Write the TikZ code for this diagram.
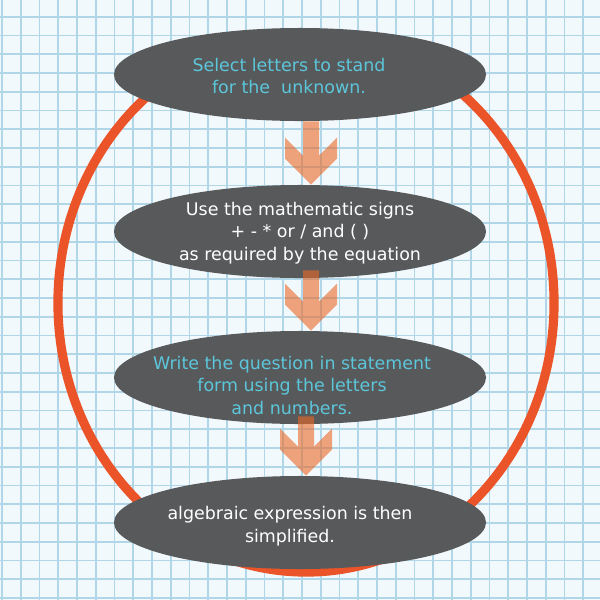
\documentclass[tikz,border=0pt]{standalone}
\usepackage{fontspec}
\setmainfont{DejaVu Sans}
\usetikzlibrary{shapes.geometric,calc}
\definecolor{gridblue}{RGB}{176,214,232}
\definecolor{paper}{RGB}{242,249,252}
\definecolor{ringred}{RGB}{234,84,40}
\definecolor{stepgray}{RGB}{88,89,91}
\definecolor{stepcyan}{RGB}{92,198,218}
\definecolor{arrowsalmon}{RGB}{235,105,38}

\begin{document}
\begin{tikzpicture}[x=0.025cm, y=-0.025cm,
    gridline/.style={gridblue, line width=1.2pt},
    stepbox/.style={ellipse, fill=stepgray, minimum width=9.3cm, minimum height=2.325cm, inner sep=0pt},
    steptext/.style={align=center, inner sep=0pt, font=\fontsize{12.4}{16}\selectfont},
    flowarrow/.style={fill=arrowsalmon, fill opacity=0.6}]
    % Grid paper
    \fill[paper] (0,0) rectangle (600,600);
    \useasboundingbox (0,0) rectangle (600,600);
    \foreach \k in {0, ..., 31} {
        \draw[gridline] (2+18.75*\k, 0) -- (2+18.75*\k, 600);
        \draw[gridline] (0, 16.75+18.75*\k) -- (600, 16.75+18.75*\k);
    }

    % Ring round the steps
    \draw[ringred, line width=6.5pt] (306,303) ellipse [x radius=6.2cm, y radius=6.725cm];

    % Steps
    \node[stepbox] (s1) at (300,74.5) {};
    \node[stepbox] (s2) at (300,231.5) {};
    \node[stepbox] (s3) at (300,377.5) {};
    \node[stepbox] (s4) at (300,522.5) {};

    % Arrows between steps
    \foreach \a/\b/\dx/\ov in {s1/s2/11/0, s2/s3/11/8, s3/s4/6/8}
        \fill[flowarrow] ($(\b.north)+(\dx,0)$) -- ++(-26,-26) -- ++(0,-21) -- ++(18,18)
            -- ($(\a.south)+(\dx-8,-\ov)$) -- ($(\a.south)+(\dx+8,-\ov)$)
            -- ($(\b.north)+(\dx+8,-29)$) -- ++(18,-18) -- ++(0,21) -- cycle;

    % Texts
    \node[steptext, stepcyan] (t1) at ($(s1)+(-11,1.5)$) {Select letters to stand\\for the \ unknown.};
    \node[steptext, white] (t2) at ($(s2)+(0,1.5)$) {Use the mathematic signs\\+ - * or / and ( )\\as required by the equation};
    \node[steptext, stepcyan] (t3) at ($(s3)+(-8,7.5)$) {Write the question in statement\\form using the letters\\and numbers.};
    \node[steptext, white] (t4) at ($(s4)+(-10,3.5)$) {algebraic expression is then\\simplified.};
\end{tikzpicture}
\end{document}
